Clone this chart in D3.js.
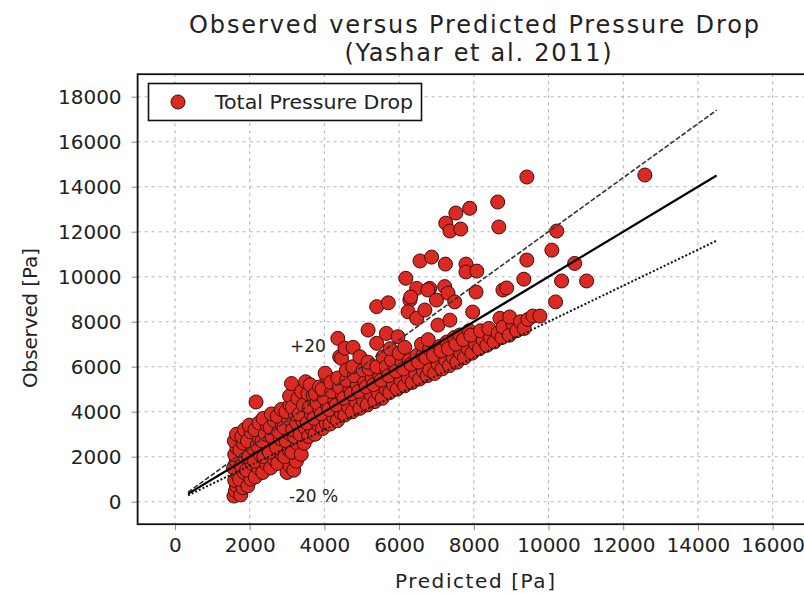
<!DOCTYPE html>
<html>
<head>
<meta charset="utf-8">
<script src="https://cdn.jsdelivr.net/npm/d3@7"></script>
<style>
  html, body { margin: 0; padding: 0; background: #fff; }
  svg text { font-family: "DejaVu Sans", sans-serif; fill: #222; }
</style>
</head>
<body>
<svg id="chart" width="804" height="593"></svg>
<script>
// Observed vs. predicted total pressure drop, [Pa] on both axes
const totalPressureDrop = [
  [1580,250],[1620,480],[1650,700],[1600,950],[1680,1200],[1570,1500],[1640,1800],[1600,2100],[1660,2400],[1590,2700],[1650,3000],
  [1760,300],[1820,620],[1730,1000],[1850,1300],[1780,1600],[1880,2000],[1740,2300],[1830,2600],[1790,2900],[1860,3200],
  [1950,700],[2030,1000],[1920,1400],[2060,1700],[1980,2000],[2080,2400],[1940,2700],[2040,3100],[1990,3400],
  [2170,4430],
  [2150,1100],[2240,1500],[2130,1800],[2280,2100],[2200,2500],[2260,2800],[2140,3200],[2250,3500],
  [2350,1300],[2450,1700],[2380,2000],[2480,2300],[2330,2700],[2420,3000],[2470,3400],[2360,3700],
  [2560,1500],[2650,1900],[2530,2200],[2680,2600],[2600,2900],[2550,3300],[2660,3600],[2580,3900],
  [2750,1700],[2860,2100],[2720,2400],[2820,2800],[2780,3100],[2880,3400],[2740,3800],[2850,4100],
  [3000,1300],[3080,1600],[2940,2000],[3060,2300],[2980,2700],[3090,3000],[2920,3300],[3040,3700],[2970,4000],[3080,4300],[3070,4700],
  [3180,1400],[3250,1800],[3130,2200],[3280,2600],[3200,2900],[3150,3200],[3260,3500],[3220,3900],[3140,4200],[3290,4600],[3120,5250],
  [3380,2100],[3460,2600],[3350,3000],[3480,3300],[3420,3600],[3330,3900],[3440,4300],[3390,4900],[3500,5330],
  [3580,2900],[3680,3200],[3540,3500],[3650,3900],[3600,4200],[3690,4600],[3560,4800],[3700,4740],[3620,5200],
  [3750,3000],[3850,3400],[3720,3700],[3880,4100],[3800,4400],[3760,4800],[3870,5100],
  [3950,3250],[4050,3500],[3920,3900],[4080,4300],[4000,4600],[3940,5000],[4060,5560],[4020,5710],
  [4150,3450],[4250,3750],[4120,4100],[4280,4500],[4200,4900],[4170,5300],
  [4350,3600],[4450,3950],[4320,4300],[4480,4700],[4400,5100],[4360,5500],[4410,6440],[4360,7260],[4460,6370],
  [4550,3850],[4650,4200],[4520,4600],[4680,5000],[4600,5400],[4590,5850],[4550,6820],
  [4750,4000],[4850,4450],[4720,4800],[4880,5200],[4800,5600],[4760,6000],[4770,6860],
  [4950,4150],[5050,4500],[4920,4900],[5080,5300],[5040,5850],[4950,6440],
  [5150,4300],[5250,4750],[5120,5100],[5280,5500],[5200,5900],[5170,6200],[5170,7630],
  [5350,4450],[5450,4800],[5320,5200],[5480,5600],[5400,6000],[5400,7040],[5400,8670],
  [5550,4600],[5650,5000],[5520,5400],[5680,5800],[5570,6440],[5660,6000],[5660,7480],[5710,8840],
  [5750,4850],[5850,5200],[5720,5600],[5880,6000],[5800,6300],[5760,6800],
  [5950,5000],[6050,5400],[5920,5800],[6080,6200],[6000,6600],[5970,7330],[6180,9930],
  [6150,5150],[6250,5500],[6120,5900],[6280,6300],[6150,6860],[6290,8960],
  [6350,5300],[6450,5700],[6320,6100],[6480,6500],[6470,9480],[6310,9100],[6240,8440],[6470,8150],
  [6550,5450],[6650,5800],[6520,6200],[6640,6520],[6600,7000],[6690,8520],[6560,10700],
  [6750,5600],[6850,6000],[6720,6400],[6820,6800],[6780,7200],[6820,9480],[6770,9410],[6870,10870],[6820,5850],
  [6950,5700],[7050,6100],[6920,6500],[7090,6900],[7040,7850],[7000,8960],
  [7150,5900],[7250,6300],[7120,6700],[7280,7100],[7220,9560],[7310,9270],[7250,12380],[7240,10560],
  [7350,6050],[7450,6400],[7320,6800],[7480,7300],[7360,8070],[7360,12030],[7490,8880],
  [7550,6200],[7650,6600],[7520,7000],[7520,12830],[7650,12120],[7630,7410],
  [7750,6400],[7850,6800],[7720,7200],[7880,7600],[7790,10560],[7790,10210],[7890,13040],
  [7950,6600],[8050,7000],[7920,7400],[7970,8430],[8080,10250],[8060,9320],
  [8150,6800],[8250,7200],[8180,7600],
  [8350,6950],[8450,7300],[8400,7700],
  [8550,7100],[8650,7500],[8700,8150],[8640,13320],[8670,12210],
  [8750,7300],[8850,7700],[8780,9410],[8880,9500],[8780,7760],
  [8950,7400],[9050,7900],[8960,8210],
  [9150,7600],[9250,8000],
  [9350,7700],[9450,8100],[9340,9890],[9420,10740],[9420,14430],
  [9580,8250],[9770,8250],
  [10220,12030],[10090,11180],[10700,10590],[10350,9810],[11020,9810],[10190,8880],[12580,14520]
];

// Parity line and the +/-20 % band, drawn over this predicted range
const parityRange = [350, 14500];
const bandFactors = { upper: 1.2, parity: 1.0, lower: 0.8 };

const xTicks = [0, 2000, 4000, 6000, 8000, 10000, 12000, 14000, 16000];
const yTicks = [0, 2000, 4000, 6000, 8000, 10000, 12000, 14000, 16000, 18000];
const xDomain = [-1000, 17000];
const yDomain = [-1000, 19000];

(function draw() {
  const svg = d3.select("#chart");
  const plotL = 137.6, plotR = 810, plotT = 74.2, plotB = 524.2;

  const x = d3.scaleLinear().domain(xDomain).range([plotL, plotR]);
  const y = d3.scaleLinear().domain(yDomain).range([plotB, plotT]);

  // dotted grid
  const grid = svg.append("g").attr("stroke", "#b5b5b5").attr("stroke-width", 1.1).attr("stroke-dasharray", "3,4");
  grid.selectAll(".gx").data(xTicks).join("line")
    .attr("x1", d => x(d)).attr("x2", d => x(d)).attr("y1", plotT).attr("y2", plotB);
  grid.selectAll(".gy").data(yTicks).join("line")
    .attr("x1", plotL).attr("x2", plotR).attr("y1", d => y(d)).attr("y2", d => y(d));

  // axes
  const xAxis = svg.append("g").attr("transform", `translate(0,${plotB})`)
    .call(d3.axisBottom(x).tickValues(xTicks).tickFormat(d3.format("d")).tickSize(6).tickSizeOuter(0).tickPadding(8));
  const yAxis = svg.append("g").attr("transform", `translate(${plotL},0)`)
    .call(d3.axisLeft(y).tickValues(yTicks).tickFormat(d3.format("d")).tickSize(6).tickSizeOuter(0).tickPadding(10));
  [xAxis, yAxis].forEach(g => {
    g.select(".domain").remove();
    g.selectAll(".tick line").attr("stroke", "#888");
    g.selectAll(".tick text").attr("font-size", 20).attr("fill", "#222")
      .attr("font-family", "DejaVu Sans, sans-serif");
  });

  // scatter
  svg.append("g").selectAll("circle").data(totalPressureDrop).join("circle")
    .attr("cx", d => x(d[0])).attr("cy", d => y(d[1])).attr("r", 7)
    .attr("fill", "#dc2a22").attr("stroke", "#3d0c0c").attr("stroke-width", 1);

  // reference lines
  const lineGen = f => d3.line().x(d => x(d)).y(d => y(d * f))(parityRange);
  svg.append("path").attr("d", lineGen(bandFactors.parity))
    .attr("stroke", "#000").attr("stroke-width", 2.2).attr("fill", "none");
  svg.append("path").attr("d", lineGen(bandFactors.upper))
    .attr("stroke", "#333").attr("stroke-width", 1.6).attr("stroke-dasharray", "5,2").attr("fill", "none");
  svg.append("path").attr("d", lineGen(bandFactors.lower))
    .attr("stroke", "#111").attr("stroke-width", 2).attr("stroke-dasharray", "2,2").attr("fill", "none");

  // band annotations
  svg.append("text").attr("x", x(3080)).attr("y", y(6650)).attr("font-size", 17).text("+20");
  svg.append("text").attr("x", x(3050)).attr("y", y(-30)).attr("font-size", 17).text("-20 %");

  // frame
  svg.append("rect").attr("x", plotL).attr("y", plotT).attr("width", plotR - plotL).attr("height", plotB - plotT)
    .attr("fill", "none").attr("stroke", "#111").attr("stroke-width", 1.8);

  // legend
  const lg = svg.append("g");
  lg.append("rect").attr("x", 148.5).attr("y", 83.5).attr("width", 273).attr("height", 37)
    .attr("fill", "#fff").attr("stroke", "#111").attr("stroke-width", 1.6);
  lg.append("circle").attr("cx", 178).attr("cy", 102).attr("r", 7)
    .attr("fill", "#dc2a22").attr("stroke", "#3d0c0c").attr("stroke-width", 1);
  lg.append("text").attr("x", 215).attr("y", 109).attr("font-size", 19)
    .attr("textLength", 198).attr("lengthAdjust", "spacingAndGlyphs").text("Total Pressure Drop");

  // titles
  svg.append("text").attr("x", 474).attr("y", 33).attr("text-anchor", "middle").attr("font-size", 24)
    .attr("textLength", 570).text("Observed versus Predicted Pressure Drop");
  svg.append("text").attr("x", 478).attr("y", 61).attr("text-anchor", "middle").attr("font-size", 24)
    .attr("textLength", 267).text("(Yashar et al. 2011)");
  svg.append("text").attr("x", 475).attr("y", 588).attr("text-anchor", "middle").attr("font-size", 20)
    .attr("textLength", 160).text("Predicted [Pa]");
  svg.append("text").attr("transform", "translate(37,318) rotate(-90)").attr("text-anchor", "middle")
    .attr("font-size", 20).attr("textLength", 140).text("Observed [Pa]");
})();
</script>
</body>
</html>
